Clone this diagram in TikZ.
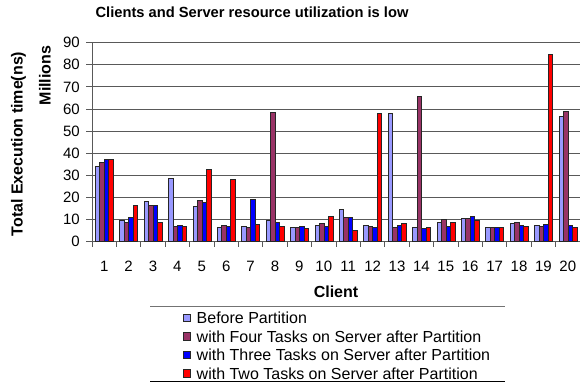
\documentclass[tikz,border=0pt]{standalone}
\usepackage{fontspec}
\setmainfont{Liberation Sans}
\definecolor{before}{HTML}{9999FF}
\definecolor{fourtask}{HTML}{993366}
\definecolor{threetask}{HTML}{0000FF}
\definecolor{twotask}{HTML}{FF0000}
\tikzset{
  bar/.style={draw=black!85, line width=0.6pt},
  gridline/.style={draw=black!65, line width=0.9pt},
  ticklab/.style={font=\fontsize{15}{18}\selectfont, inner sep=0pt},
  axtitle/.style={font=\fontsize{16}{19}\selectfont\bfseries, inner sep=0pt},
  legtext/.style={font=\fontsize{16}{19}\selectfont, inner sep=0pt, anchor=west},
  swatch/.style={draw=black!85, line width=0.6pt, minimum size=7.5pt, inner sep=0pt},
}
\begin{document}
\begin{tikzpicture}[x=1pt,y=-1pt]
\useasboundingbox (0,0) rectangle (580,386);
% plot frame and grid
\foreach \v in {0,10,...,90} {
  \draw[gridline] (86,241.7-\v*2.211) -- (580,241.7-\v*2.211);
  \node[ticklab, anchor=east] (y\v) at (80,241.7-\v*2.211) {\v};
}
\draw[gridline] (92,42.7) -- (92,241.7);
\foreach \k in {0,...,20}
  \draw[gridline] (92+\k*24.4,241.7) -- (92+\k*24.4,247);
% bars
\foreach \c/\a/\b/\d/\e in {1/34.1/35.9/37.2/37.2, 2/9.8/9.0/11.0/16.4,
    3/18.4/16.4/16.4/8.7, 4/28.5/6.9/7.5/6.9, 5/15.8/18.7/17.8/32.9,
    6/6.5/7.2/6.9/28.2, 7/6.9/6.3/19.1/8.0, 8/9.5/58.5/8.7/7.1,
    9/6.5/6.5/6.8/6.0, 10/7.2/8.3/6.9/11.5, 11/14.8/11.0/11.0/5.3,
    12/7.5/6.8/6.5/58.0, 13/58.0/6.5/7.4/8.3, 14/6.5/65.9/5.9/6.5,
    15/8.7/10.0/7.1/8.7, 16/10.4/10.6/11.5/9.6, 17/6.3/6.3/6.3/6.3,
    18/8.3/8.6/7.4/6.8, 19/7.4/7.1/7.8/84.7, 20/56.8/59.1/7.5/6.6} {
  \pgfmathsetmacro\xl{92+(\c-1)*24.4+3.2}
  \draw[bar, fill=before] (\xl,241.7) rectangle ++(4.5,-\a*2.211);
  \draw[bar, fill=fourtask] (\xl+4.5,241.7) rectangle ++(4.5,-\b*2.211);
  \draw[bar, fill=threetask] (\xl+9,241.7) rectangle ++(4.5,-\d*2.211);
  \draw[bar, fill=twotask] (\xl+13.5,241.7) rectangle ++(4.5,-\e*2.211);
  \node[ticklab] (c\c) at (92+\c*24.4-12.2,266.5) {\c};
}
% titles
\node[font=\fontsize{14.7}{17}\selectfont\bfseries, inner sep=0pt] (title) at (252,12.5) {Clients and Server resource utilization is low};
\node[axtitle, rotate=90] (ytitle) at (18.5,144) {Total Execution time(ns)};
\node[axtitle, rotate=90] (millions) at (45,75.5) {Millions};
\node[axtitle] (xtitle) at (336,292) {Client};
% legend
\draw[draw=black!55, line width=0.9pt] (150,306.7) -- (505,306.7);
\draw[draw=black, line width=0.9pt] (150,381) -- (505,381);
\foreach \i/\col/\txt in {1/before/Before Partition,
    2/fourtask/with Four Tasks on Server after Partition,
    3/threetask/with Three Tasks on Server after Partition,
    4/twotask/with Two Tasks on Server after Partition} {
  \node[swatch, fill=\col] (sw\i) at (187,299.5+\i*18.5) {};
  \node[legtext] (leg\i) at (196.5,299.5+\i*18.5) {\txt};
}
\end{tikzpicture}
\end{document}
